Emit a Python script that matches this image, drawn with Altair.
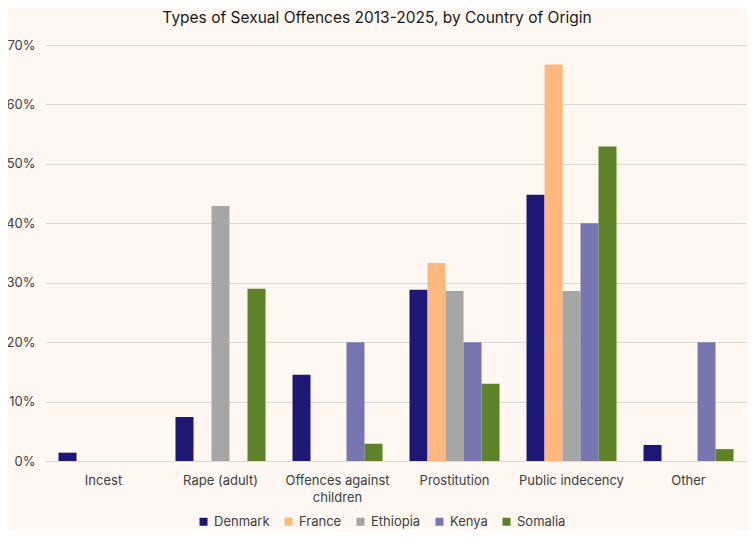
import altair as alt
import pandas as pd

categories = ["Incest", "Rape (adult)", "Offences against children", "Prostitution", "Public indecency", "Other"]
countries = ["Denmark", "France", "Ethiopia", "Kenya", "Somalia"]
colors = ["#1D1775", "#FFB97E", "#A6A6A6", "#7876B0", "#5E8227"]

denmark = [0.014, 0.074, 0.145, 0.288, 0.448, 0.027]
france = [0.0, 0.0, 0.0, 0.333, 0.667, 0.0]
ethiopia = [0.0, 0.429, 0.0, 0.286, 0.286, 0.0]
kenya = [0.0, 0.0, 0.20, 0.20, 0.40, 0.20]
somalia = [0.0, 0.29, 0.029, 0.13, 0.529, 0.02]

series = {"Denmark": denmark, "France": france, "Ethiopia": ethiopia, "Kenya": kenya, "Somalia": somalia}
rows = []
for c in countries:
    for cat, v in zip(categories, series[c]):
        rows.append({"Offence": cat, "Country": c, "Share": v})
df = pd.DataFrame(rows)

font = "Inter"

chart = alt.Chart(df).mark_bar().encode(
    x=alt.X("Offence:N", sort=categories,
            scale=alt.Scale(paddingInner=0, paddingOuter=0),
            axis=alt.Axis(title=None, labelAngle=0, domain=True, domainColor="#D9D9D9",
                          ticks=False, labelFontSize=13, labelColor="#404040", labelFont=font,
                          labelPadding=13, labelLineHeight=17,
                          labelExpr="datum.value == 'Offences against children' ? ['Offences against', 'children'] : datum.value")),
    xOffset=alt.XOffset("Country:N", sort=countries,
                        scale=alt.Scale(paddingInner=0, paddingOuter=0.75)),
    y=alt.Y("Share:Q", scale=alt.Scale(domain=[0, 0.7]),
            axis=alt.Axis(title=None, format=".0%", values=[0, 0.1, 0.2, 0.3, 0.4, 0.5, 0.6, 0.7],
                          domain=False, ticks=False, gridColor="#D9D9D9", labelFontSize=13,
                          labelColor="#404040", labelFont=font, labelPadding=10)),
    color=alt.Color("Country:N", sort=countries,
                    scale=alt.Scale(domain=countries, range=colors),
                    legend=alt.Legend(title=None, orient="none", direction="horizontal",
                                      legendX=152, legendY=470, symbolType="square",
                                      symbolSize=64, symbolStrokeWidth=0, labelFontSize=13,
                                      labelColor="#404040", labelFont=font, columnPadding=12,
                                      labelOffset=4)),
).properties(
    width=702,
    height=416,
    title=alt.TitleParams("Types of Sexual Offences 2013-2025, by Country of Origin",
                          fontSize=15.5, font=font, fontWeight="normal", color="#1a1a1a",
                          anchor="middle", offset=13, dx=-19),
    autosize=alt.AutoSizeParams(type="none"),
    padding={"left": 37, "top": 37, "right": 0, "bottom": 69},
    background="#FEF7F2",
).configure_view(stroke=None)

chart.save("out.html", embed_options={"renderer": "svg", "actions": False})
